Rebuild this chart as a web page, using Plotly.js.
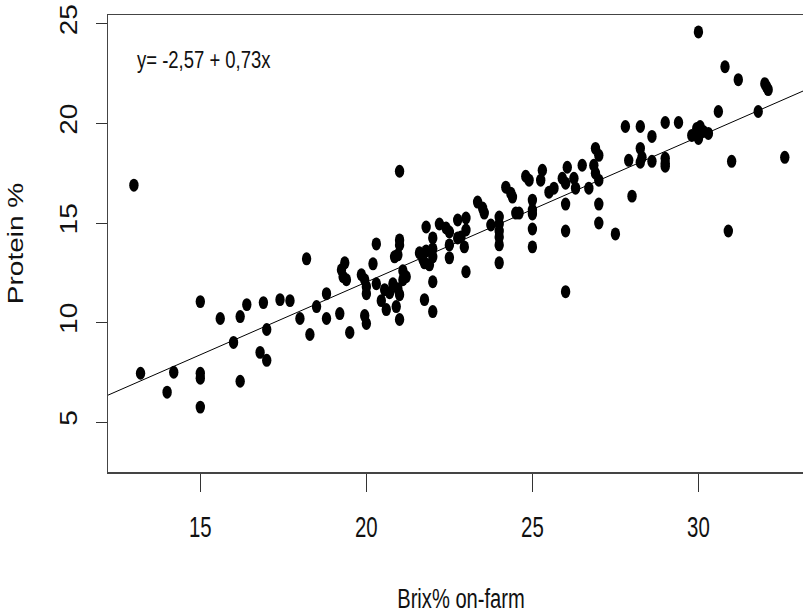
<!DOCTYPE html>
<html>
<head>
<meta charset="utf-8">
<script src="https://cdn.plot.ly/plotly-3.0.1.min.js"></script>
<style>
  html, body { margin: 0; padding: 0; overflow: hidden; background: #fff; }
  #chart { width: 816px; height: 614px; }
</style>
</head>
<body>
<div id="chart"></div>
<script>
// Brix% on-farm (x) and Protein % (y)
const brix = [
  13.0, 13.2, 14.0, 14.2, 15.0, 15.0, 15.0, 15.0, 15.6, 16.0,
  16.2, 16.2, 16.4, 16.8, 16.9, 17.0, 17.0, 17.4, 17.7, 18.0,
  18.2, 18.3, 18.5, 18.8, 18.8, 19.2, 19.25, 19.35, 19.3, 19.4,
  19.5, 19.85, 19.95, 20.0, 20.0, 19.95, 20.0, 20.2, 20.3, 20.3,
  20.45, 20.55, 20.6, 20.7, 20.8, 20.9, 20.95, 21.0, 21.0, 21.1,
  21.1, 21.2, 20.85, 20.95, 21.0, 21.0, 21.0, 21.6, 21.7, 21.75,
  21.8, 21.9, 22.0, 22.0, 21.75, 22.0, 22.0, 21.8, 22.0, 22.2,
  22.4, 22.5, 22.5, 22.5, 22.75, 22.75, 22.85, 23.0, 23.0, 22.95,
  23.0, 23.35, 23.5, 23.55, 23.75, 24.0, 24.0, 24.0, 24.0, 24.0,
  24.0, 24.2, 24.35, 24.4, 24.5, 24.6, 24.8, 24.9, 25.0, 25.0,
  25.0, 25.0, 25.0, 25.25, 25.3, 25.5, 25.65, 25.9, 26.0, 26.05,
  26.0, 26.0, 26.0, 26.25, 26.3, 26.5, 26.7, 26.85, 26.9, 27.0,
  26.9, 27.0, 27.0, 27.0, 27.5, 27.8, 27.9, 28.0, 28.25, 28.25,
  28.3, 28.25, 28.6, 28.6, 29.0, 29.0, 29.0, 29.0, 29.4, 29.8,
  29.95, 30.05, 30.0, 30.15, 30.3, 30.0, 30.6, 30.8, 30.9, 31.0,
  31.2, 31.8, 32.0, 32.05, 32.1, 32.6
];
const protein = [
  16.9, 7.45, 6.5, 7.5, 7.45, 7.2, 5.75, 11.05, 10.2, 9.0,
  7.05, 10.3, 10.9, 8.5, 11.0, 8.1, 9.65, 11.15, 11.1, 10.2,
  13.2, 9.4, 10.8, 11.45, 10.2, 10.45, 12.65, 13.0, 12.3, 12.15,
  9.5, 12.4, 12.15, 11.8, 11.45, 10.35, 9.95, 12.95, 13.95, 11.95,
  11.1, 11.65, 10.65, 11.5, 11.95, 10.8, 11.7, 11.4, 10.15, 12.15,
  12.6, 12.3, 13.3, 13.4, 13.9, 14.15, 17.6, 13.5, 13.2, 13.0,
  13.6, 12.9, 13.3, 13.7, 11.15, 12.05, 10.55, 14.8, 14.25, 14.95,
  14.75, 14.55, 13.9, 13.25, 15.15, 14.25, 14.3, 15.25, 14.65, 13.8,
  12.55, 16.05, 15.75, 15.5, 14.9, 15.3, 14.95, 14.6, 14.3, 13.9,
  13.0, 16.8, 16.5, 16.3, 15.5, 15.5, 17.35, 17.15, 16.15, 15.65,
  15.45, 14.7, 13.8, 17.15, 17.65, 16.55, 16.75, 17.25, 17.0, 17.8,
  15.95, 14.6, 11.55, 17.25, 16.75, 17.9, 16.75, 17.9, 17.5, 17.15,
  18.75, 18.4, 15.95, 15.0, 14.45, 19.85, 18.15, 16.35, 19.85, 18.75,
  18.3, 18.05, 19.35, 18.1, 20.05, 18.25, 18.0, 17.85, 20.05, 19.4,
  19.75, 19.85, 19.25, 19.6, 19.5, 24.6, 20.6, 22.85, 14.6, 18.1,
  22.2, 20.6, 22.0, 21.85, 21.7, 18.3
];
// Fitted line coefficients (from the equation printed on the chart)
const intercept = -2.57;
const slope = 0.73;
const fitX = [12.0, 34.0];
const fitY = fitX.map(v => intercept + slope * v);

const xTicks = [15, 20, 25, 30];
const yTicks = [5, 10, 15, 20, 25];
const equationText = "y= -2,57 + 0,73x";

const sans = "'Liberation Sans', Arial, sans-serif";

const traces = [
  {
    x: fitX, y: fitY, type: 'scatter', mode: 'lines',
    line: { color: '#000', width: 1 }, hoverinfo: 'skip', showlegend: false
  },
  {
    x: brix, y: protein, type: 'scatter', mode: 'markers',
    marker: { color: '#000', size: 12, symbol: 'circle', line: { width: 0 } },
    showlegend: false
  }
];

const layout = {
  width: 816, height: 614,
  margin: { l: 108, r: 0, t: 15, b: 142, pad: 0 },
  paper_bgcolor: '#fff', plot_bgcolor: '#fff',
  showlegend: false,
  xaxis: {
    range: [12.22, 33.48],
    tickvals: xTicks, ticktext: xTicks.map(String),
    ticks: 'outside', ticklen: 18, tickwidth: 1, tickcolor: '#333',
    showline: true, linecolor: '#444', linewidth: 1.5, mirror: true,
    showgrid: false, zeroline: false,
    tickfont: { family: sans, size: 30, color: '#111' },
    ticklabelstandoff: 10,
    title: { text: 'Brix% on-farm', font: { family: sans, size: 28, color: '#111' }, standoff: 46 },
    automargin: true
  },
  yaxis: {
    range: [2.49, 25.45],
    tickvals: yTicks, ticktext: yTicks.map(String),
    ticks: 'outside', ticklen: 11, tickwidth: 1, tickcolor: '#333',
    showline: true, linecolor: '#444', linewidth: 1.5, mirror: true,
    showgrid: false, zeroline: false,
    tickangle: -90,
    tickfont: { family: sans, size: 28, color: '#111' },
    ticklabelstandoff: 6,
    title: { text: 'Protein %', font: { family: sans, size: 28, color: '#111' }, standoff: 23 },
    automargin: true
  },
  annotations: [
    {
      text: equationText, xref: 'x', yref: 'y', x: 13.03, y: 23.19,
      xanchor: 'left', yanchor: 'middle', showarrow: false,
      font: { family: sans, size: 24, color: '#111' }
    }
  ]
};

// The reference picture is horizontally compressed; squeeze the text the same way
function squash(el, s, anchor) {
  const r = el.getBoundingClientRect();
  const parent = el.parentNode;
  const m = parent.getScreenCTM();
  const sx = anchor === 'left' ? r.left : (r.left + r.right) / 2;
  const px = (sx - m.e) / m.a;
  const g = document.createElementNS('http://www.w3.org/2000/svg', 'g');
  g.setAttribute('transform', `translate(${px},0) scale(${s},1) translate(${-px},0)`);
  parent.insertBefore(g, el);
  g.appendChild(el);
}

Plotly.newPlot('chart', traces, layout, { displayModeBar: false, staticPlot: true }).then(gd => {
  gd.querySelectorAll('.xtick text').forEach(t => squash(t, 0.68, 'center'));
  gd.querySelectorAll('.g-xtitle text').forEach(t => squash(t, 0.72, 'center'));
  gd.querySelectorAll('.annotation-text').forEach(t => squash(t, 0.77, 'left'));
  gd.querySelectorAll('.ytick text').forEach(t => squash(t, 0.83, 'center'));
  gd.querySelectorAll('.g-ytitle text').forEach(t => squash(t, 0.8, 'center'));
  // markers are drawn as upright ellipses in the reference
  gd.querySelectorAll('.scatterlayer .trace:last-child path.point').forEach(p => {
    const tr = p.getAttribute('transform') || '';
    p.setAttribute('transform', tr + ' scale(0.78,1.08)');
  });
});
</script>
</body>
</html>
